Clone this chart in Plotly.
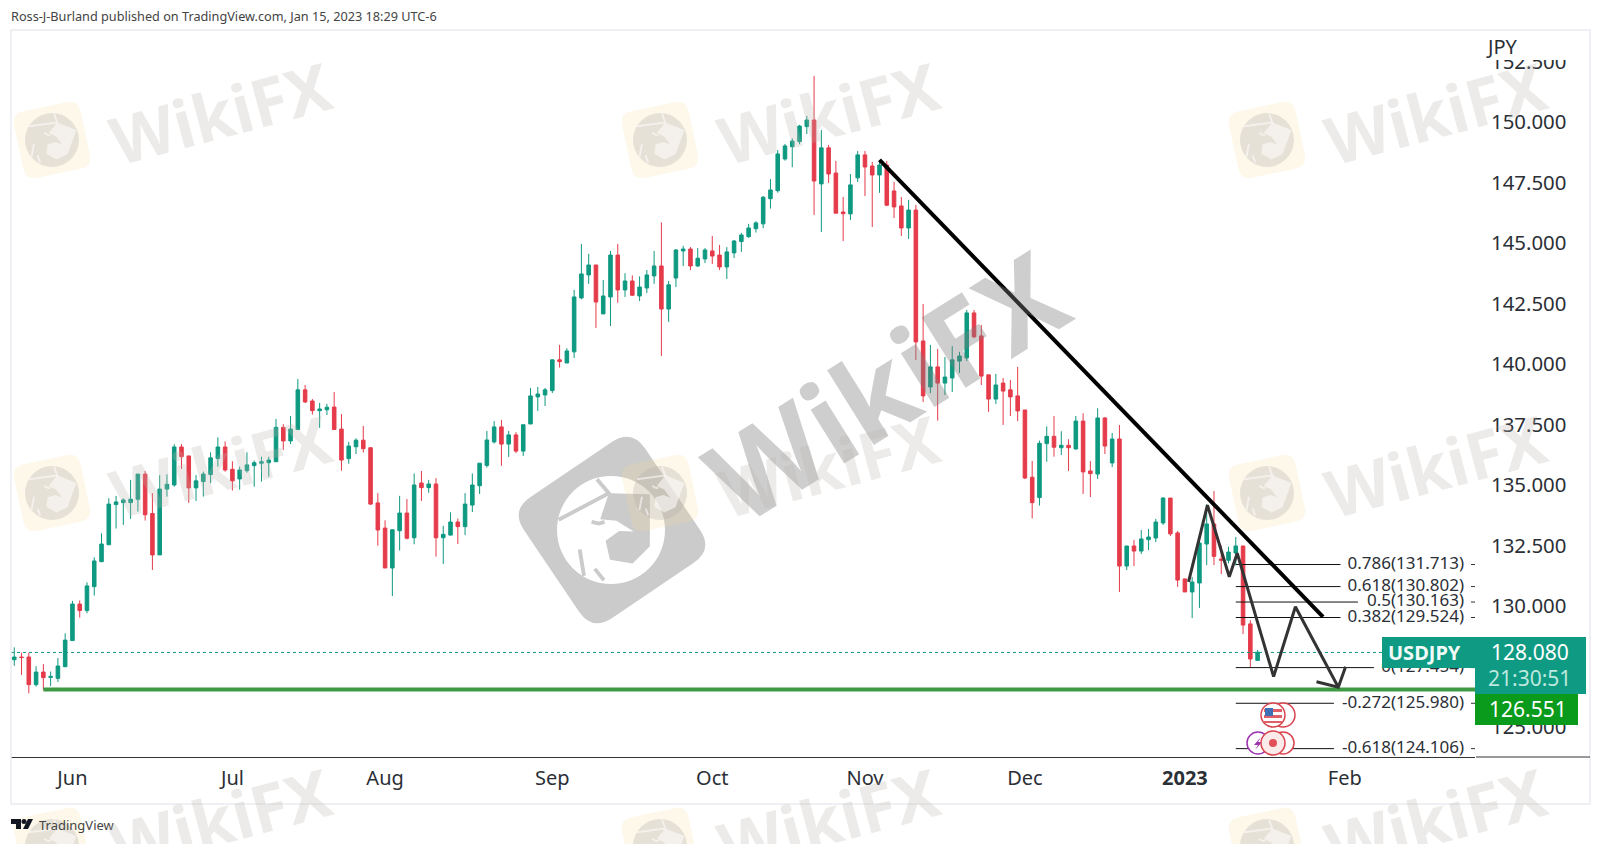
import math                         # for turning the watermark squares
import pandas                       # for the weekday bars
import plotly.graph_objects as go   # plotly

# Daily USDJPY bars
first_bar = "2022-05-20 12:00"
opens = [
    127.78, 127.89, 127.89, 126.75, 127.27, 127.05, 127.01, 127.49, 128.57, 130.08,
    129.81, 130.80, 131.83, 132.53, 134.19, 134.27, 134.27, 134.41, 135.45, 133.82,
    132.11, 134.83, 135.00, 136.57, 136.20, 134.88, 135.14, 135.43, 136.09, 136.57,
    135.65, 135.25, 135.59, 135.80, 135.90, 135.92, 135.96, 137.38, 136.82, 137.29,
    138.93, 138.47, 138.07, 138.11, 138.22, 137.31, 136.09, 136.58, 136.85, 136.54,
    134.26, 133.22, 131.57, 133.11, 133.84, 132.82, 135.08, 134.89, 135.04, 132.82,
    132.93, 133.47, 133.28, 134.17, 134.97, 135.81, 136.78, 137.40, 136.69, 137.07,
    136.40, 137.52, 138.64, 138.72, 138.90, 140.17, 140.04, 140.50, 142.73, 143.68,
    144.09, 142.07, 142.77, 144.50, 143.06, 143.43, 142.81, 143.14, 143.64, 144.05,
    142.27, 143.55, 144.67, 144.75, 144.05, 144.34, 144.67, 144.50, 144.01, 144.59,
    145.06, 145.26, 145.59, 145.79, 146.83, 147.16, 148.47, 148.98, 149.19, 149.81,
    150.08, 147.44, 148.93, 147.89, 146.28, 146.20, 147.69, 148.64, 148.18, 147.81,
    148.22, 147.15, 146.53, 145.62, 146.36, 140.95, 139.05, 139.88, 139.21, 139.42,
    140.12, 140.25, 142.11, 141.16, 139.55, 138.55, 139.21, 138.93, 138.68, 138.10,
    135.32, 134.48, 136.71, 137.01, 136.54, 136.64, 136.49, 137.64, 135.58, 135.45,
    137.77, 135.91, 136.90, 131.65, 132.48, 132.27, 132.74, 132.81, 133.43, 134.46,
    133.02, 131.12, 130.58, 130.95, 132.56, 133.39, 131.94, 131.89, 132.19, 132.48,
    129.26, 127.75,
]
highs = [
    128.29, 128.07, 128.07, 127.51, 127.60, 127.29, 127.85, 128.87, 130.21, 130.23,
    130.98, 132.01, 133.00, 134.45, 134.55, 134.45, 135.21, 135.45, 135.58, 134.66,
    135.41, 135.44, 136.69, 136.69, 136.20, 135.41, 135.55, 136.35, 136.97, 136.80,
    135.98, 135.76, 136.35, 136.01, 136.17, 136.17, 137.73, 137.51, 137.85, 139.38,
    139.13, 138.55, 138.39, 138.35, 138.84, 137.93, 136.78, 136.93, 137.44, 136.54,
    134.66, 133.54, 133.15, 134.55, 134.42, 135.48, 135.58, 135.21, 135.28, 133.31,
    133.87, 133.61, 134.66, 135.48, 135.90, 137.23, 137.64, 137.69, 137.23, 137.18,
    137.49, 139.01, 139.05, 139.01, 140.19, 140.79, 140.65, 143.06, 144.96, 144.55,
    144.09, 143.47, 144.67, 144.96, 143.75, 143.66, 143.62, 143.88, 144.67, 145.85,
    143.43, 144.75, 144.88, 144.83, 144.79, 144.79, 145.29, 144.92, 144.83, 145.12,
    145.41, 145.79, 145.90, 146.94, 147.64, 148.84, 149.09, 149.32, 149.88, 150.25,
    151.90, 149.67, 149.05, 148.39, 146.90, 147.85, 148.80, 148.80, 148.35, 148.43,
    148.39, 147.52, 146.90, 146.78, 146.57, 142.48, 140.79, 140.62, 140.29, 140.74,
    140.50, 142.23, 142.23, 141.61, 139.55, 139.59, 139.42, 139.34, 139.88, 138.10,
    135.99, 136.83, 137.42, 137.85, 137.22, 136.89, 137.85, 137.96, 135.99, 138.17,
    137.81, 137.15, 137.48, 132.48, 132.73, 133.14, 133.18, 133.60, 134.50, 134.46,
    133.10, 131.12, 131.20, 132.73, 134.20, 134.75, 132.50, 132.45, 132.85, 132.48,
    129.41, 128.18,
]
lows = [
    127.53, 127.15, 126.39, 126.67, 126.53, 126.69, 126.86, 127.49, 128.57, 129.52,
    129.70, 130.43, 131.83, 132.53, 133.20, 133.35, 133.60, 133.90, 133.53, 131.49,
    132.11, 134.52, 134.93, 135.66, 134.26, 134.34, 134.52, 135.07, 135.76, 135.55,
    134.77, 134.81, 135.51, 134.93, 135.14, 135.34, 135.96, 136.45, 136.69, 137.29,
    138.39, 137.91, 137.36, 137.89, 137.29, 135.59, 135.88, 136.28, 136.34, 134.17,
    132.49, 131.57, 130.41, 132.29, 132.75, 132.55, 134.34, 134.68, 132.04, 131.74,
    132.91, 132.56, 132.93, 133.88, 134.63, 135.72, 136.71, 135.79, 136.16, 136.32,
    136.20, 137.52, 138.06, 138.26, 138.80, 139.85, 140.04, 140.25, 142.67, 143.31,
    141.49, 142.07, 141.57, 142.53, 142.77, 142.81, 142.60, 142.93, 143.31, 140.33,
    141.74, 143.18, 144.05, 143.88, 144.01, 144.17, 144.13, 143.88, 143.51, 144.38,
    144.63, 145.21, 145.43, 145.61, 146.42, 147.08, 148.40, 148.13, 149.08, 149.50,
    146.16, 145.45, 147.48, 146.23, 145.08, 145.95, 147.52, 146.94, 145.66, 147.07,
    146.53, 146.03, 145.29, 145.17, 140.17, 138.43, 138.80, 137.66, 138.72, 138.84,
    139.63, 140.12, 141.07, 139.13, 138.02, 138.35, 137.48, 137.85, 137.64, 135.24,
    133.62, 134.15, 135.96, 136.17, 136.24, 135.58, 136.45, 134.63, 134.50, 135.25,
    136.28, 135.74, 130.58, 131.49, 131.65, 132.15, 132.31, 132.64, 133.35, 132.89,
    130.79, 130.58, 129.50, 129.92, 131.69, 131.69, 131.32, 131.76, 131.68, 128.84,
    127.48, 127.75,
]
closes = [
    127.89, 127.87, 126.75, 127.27, 127.04, 127.09, 127.52, 128.59, 130.08, 129.81,
    130.83, 131.86, 132.56, 134.21, 134.30, 134.38, 134.41, 135.45, 133.77, 132.11,
    134.83, 135.03, 136.57, 136.17, 134.88, 135.17, 135.45, 136.12, 136.57, 135.62,
    135.17, 135.62, 135.83, 135.92, 135.96, 136.03, 137.38, 136.82, 137.31, 138.93,
    138.43, 138.07, 138.14, 138.21, 137.29, 136.03, 136.61, 136.85, 136.50, 134.21,
    133.14, 131.57, 133.15, 133.84, 132.80, 135.00, 134.89, 135.04, 132.82, 132.96,
    133.47, 133.28, 134.21, 135.00, 135.90, 136.86, 137.40, 136.69, 137.07, 136.40,
    137.49, 138.68, 138.76, 138.93, 140.17, 140.10, 140.54, 142.77, 143.72, 144.09,
    142.56, 142.81, 144.50, 143.06, 143.43, 142.84, 143.18, 143.68, 144.05, 142.27,
    143.27, 144.71, 144.75, 144.05, 144.37, 144.71, 144.46, 144.01, 144.63, 145.08,
    145.33, 145.62, 145.83, 146.89, 147.19, 148.68, 149.01, 149.21, 149.83, 150.08,
    147.56, 148.93, 147.85, 146.23, 146.21, 147.40, 148.64, 148.14, 147.81, 148.22,
    146.56, 146.49, 145.62, 146.36, 140.91, 138.68, 139.88, 139.21, 139.46, 140.17,
    140.33, 142.11, 141.12, 139.50, 138.55, 139.13, 138.88, 138.64, 138.06, 135.29,
    134.27, 136.72, 137.01, 136.56, 136.64, 136.54, 137.64, 135.54, 135.47, 137.77,
    136.61, 136.90, 131.65, 132.48, 132.27, 132.77, 132.85, 133.47, 134.46, 132.98,
    131.07, 130.58, 130.99, 132.60, 133.39, 132.05, 131.89, 132.23, 132.48, 129.21,
    127.81, 128.09,
]

# Axis labels
month_dates = ["2022-06-01 12:00", "2022-07-01 12:00", "2022-08-01 12:00", "2022-09-01 12:00",
               "2022-10-03 12:00", "2022-11-01 12:00", "2022-12-01 12:00", "2023-01-02 12:00",
               "2023-02-01 12:00"]
month_labels = ["Jun", "Jul", "Aug", "Sep", "Oct", "Nov", "Dec", "<b>2023</b>", "Feb"]
price_ticks = [125 + 2.5 * i for i in range(12)]
axis_start = "2022-05-20 01:12"
axis_end = "2023-02-27 09:36"

# Hand drawn lines
trend_dates = ["2022-11-03 12:00", "2023-01-27 12:00"]
trend_prices = [148.43, 129.55]
zigzag_dates = ["2023-01-03 00:00", "2023-01-05 14:24", "2023-01-10 14:24", "2023-01-11 16:48",
                "2023-01-18 16:48", "2023-01-23 16:48", "2023-01-31 14:24"]
zigzag_prices = [131.0, 134.17, 131.21, 132.18, 127.08, 129.97, 126.64]
arrow_dates = ["2023-01-26 14:24", "2023-01-31 14:24", "2023-02-01 14:24"]
arrow_prices = [126.87, 126.64, 127.49]

# Fibonacci levels
fib_labels = ["0.786(131.713)", "0.618(130.802)", "0.5(130.163)", "0.382(129.524)",
              "0(127.454)", "-0.272(125.980)", "-0.618(124.106)"]
fib_prices = [131.713, 130.802, 130.163, 129.524, 127.454, 125.980, 124.106]
fib_ends = ["2023-01-31 21:36", "2023-01-31 21:36", "2023-02-03 07:12", "2023-01-31 21:36",
            "2023-02-07 12:00", "2023-01-31 00:00", "2023-01-31 00:00"]
fib_start = "2023-01-11 12:00"
fib_text_x = "2023-02-23 21:36"
fib_dash_x = "2023-02-24 20:24"

last_price = 128.080
support_price = 126.551
support_start = "2022-05-26 12:00"

TEAL = "#0E9981"
RED = "#E53B4A"
TEXT = "#2B2F36"

# Pixel positions of the plot box inside the page
LEFT, RIGHT, TOP, BOTTOM = 11, 1475, 30, 757


def fx(x):
    return (x - LEFT) / (RIGHT - LEFT)


def fy(y):
    return (BOTTOM - y) / (BOTTOM - TOP)


def rect(x0, y0, x1, y1, fill, line=None, width=0):
    return dict(type="rect", xref="paper", yref="paper", x0=fx(x0), x1=fx(x1), y0=fy(y0), y1=fy(y1),
                fillcolor=fill, line=dict(color=line or fill, width=width))


def disc(cx, cy, r, fill, line=None, width=0):
    return dict(type="circle", xref="paper", yref="paper", x0=fx(cx - r), x1=fx(cx + r), y0=fy(cy - r), y1=fy(cy + r),
                fillcolor=fill, line=dict(color=line or fill, width=width))


def poly(points, fill=None, line=None, width=0, closed=True):
    path = "M" + " L".join(f"{fx(x):.5f},{fy(y):.5f}" for x, y in points) + (" Z" if closed else "")
    return dict(type="path", xref="paper", yref="paper", path=path, fillcolor=fill or "rgba(0,0,0,0)",
                line=dict(color=line or "rgba(0,0,0,0)", width=width))


def rounded_square(cx, cy, side, radius, degrees, fill):
    # rounded square turned around its centre, built from quadratic corners
    a = math.radians(degrees)
    h = side / 2

    def turn(x, y):
        px = cx + x * math.cos(a) - y * math.sin(a)
        py = cy + x * math.sin(a) + y * math.cos(a)
        return f"{fx(px):.5f},{fy(py):.5f}"

    k = h - radius
    path = (f"M{turn(-k, -h)} L{turn(k, -h)} Q{turn(h, -h)} {turn(h, -k)} L{turn(h, k)} Q{turn(h, h)} {turn(k, h)} "
            f"L{turn(-k, h)} Q{turn(-h, h)} {turn(-h, k)} L{turn(-h, -k)} Q{turn(-h, -h)} {turn(-k, -h)} Z")
    return dict(type="path", xref="paper", yref="paper", path=path, fillcolor=fill, line=dict(width=0))


def eagle(cx, cy, r, degrees, face, cut):
    # rough eagle head: a disc with the beak, the slash and the feathers cut out of it
    a = math.radians(degrees)

    def at(u, v):
        return (cx + r * (u * math.cos(a) - v * math.sin(a)), cy + r * (u * math.sin(a) + v * math.cos(a)))

    out = [disc(cx, cy, r, face)]
    thin = max(r / 14, 1)
    out.append(poly([at(-0.97, -0.19), at(-0.04, -0.68), at(-0.26, -0.94)], line=cut, width=thin, closed=False))
    out.append(poly([at(-0.04, -0.68), at(0.72, -0.66), at(0.72, 0.3), at(0.4, 0.62), at(-0.02, 0.55), at(-0.1, 0.2),
                     at(0.15, 0.02), at(0.42, 0.03), at(0.1, -0.17), at(-0.2, -0.2)], fill=cut))
    out.append(poly([at(-0.58, 0.36), at(-0.5, 0.85)], line=cut, width=thin, closed=False))
    out.append(poly([at(-0.3, 0.72), at(-0.13, 0.93)], line=cut, width=thin, closed=False))
    out.append(poly([at(-0.36, -0.15), at(-0.22, -0.12), at(-0.12, -0.15)], line=cut, width=thin, closed=False))
    return out


bar_dates = (pandas.bdate_range(first_bar[:10], periods=len(opens)) + pandas.Timedelta(hours=12)).strftime("%Y-%m-%d %H:%M").tolist()

fig = go.Figure()

# Candles
fig.add_trace(go.Candlestick(
    x=bar_dates, open=opens, high=highs, low=lows, close=closes,
    increasing=dict(line=dict(color=TEAL, width=1), fillcolor=TEAL),
    decreasing=dict(line=dict(color=RED, width=1), fillcolor=RED),
    whiskerwidth=0,
))

# Last price and support levels
fig.add_trace(go.Scatter(x=[axis_start, axis_end], y=[last_price, last_price], mode="lines",
                         line=dict(color=TEAL, width=1, dash="dot")))
fig.add_trace(go.Scatter(x=[support_start, axis_end], y=[support_price, support_price], mode="lines",
                         line=dict(color="#3D9A43", width=4)))

# Fibonacci lines, their labels and the small dashes by the price scale
for label, price, end in zip(fib_labels, fib_prices, fib_ends):
    fig.add_trace(go.Scatter(x=[fib_start, end], y=[price, price], mode="lines", line=dict(color="#111111", width=1)))
    fig.add_trace(go.Scatter(x=[fib_dash_x, axis_end], y=[price, price], mode="lines", line=dict(color="#333333", width=1)))
    fig.add_trace(go.Scatter(x=[fib_text_x], y=[price], mode="text", text=[label], textposition="middle left",
                             textfont=dict(family="Noto Sans", size=17, color=TEXT), cliponaxis=False))

# Trend line and projected path
fig.add_trace(go.Scatter(x=trend_dates, y=trend_prices, mode="lines", line=dict(color="#000000", width=4)))
fig.add_trace(go.Scatter(x=zigzag_dates, y=zigzag_prices, mode="lines", line=dict(color="#333333", width=3)))
fig.add_trace(go.Scatter(x=arrow_dates, y=arrow_prices, mode="lines", line=dict(color="#333333", width=3)))

shapes = []

# Big watermark in the middle
shapes.append(rounded_square(612, 530, 146, 24, -34, "rgba(125,125,125,0.40)"))
shapes.extend(eagle(611, 530, 54, 0, "#ffffff", "#cbcbcb"))

# Small tiled watermarks
for row_y in [140, 493, 846]:
    for col_x in [52, 660, 1267]:
        shapes.append(rounded_square(col_x, row_y, 68, 12, -12, "rgba(250,222,150,0.20)"))
        shapes.extend(eagle(col_x, row_y, 27, 20, "rgba(175,172,168,0.30)", "rgba(255,255,255,0.55)"))

# Price scale labels
shapes.append(rect(1382, 637, 1586, 668, "#0F9B83"))
shapes.append(rect(1475, 668, 1586, 694, "#0F9B83"))
shapes.append(rect(1475, 694, 1578, 725, "#0A9A1C"))
shapes.append(rect(1480, 31, 1589, 60, "#ffffff"))

# Chart frame and the rest of the time axis line
shapes.append(rect(LEFT, TOP, 1590, 804, "rgba(0,0,0,0)", line="#E9ECEF", width=1.5))
shapes.append(poly([(1476, BOTTOM), (1590, BOTTOM)], line="#333333", width=1, closed=False))

# Calendar icons
shapes.append(disc(1283, 715, 12, "#ffffff", line="#D9434E", width=1.5))
shapes.append(disc(1273, 715, 12, "#ffffff", line="#D9434E", width=1.5))
shapes.append(rect(1264, 709, 1282, 712, "#E0606A"))
shapes.append(rect(1264, 715, 1282, 718, "#E0606A"))
shapes.append(rect(1264, 721, 1282, 723, "#E0606A"))
shapes.append(rect(1265, 708, 1273, 716, "#3F6FB5"))
shapes.append(disc(1258, 743, 11, "#ffffff", line="#9C33B0", width=1.5))
shapes.append(poly([(1261, 737), (1254, 745), (1258, 745), (1255, 750), (1262, 742), (1258, 742)], fill="#9C33B0"))
shapes.append(disc(1283, 743, 11, "#ffffff", line="#D9434E", width=1.5))
shapes.append(disc(1273, 743, 12, "#FBEAEA", line="#D9434E", width=1.5))
shapes.append(disc(1273, 743, 4, "#E0505A"))

# TradingView mark
shapes.append(poly([(11, 819), (21, 819), (21, 829), (16, 829), (16, 824), (11, 824)], fill="#131722"))
shapes.append(disc(24, 821.5, 2.5, "#131722"))
shapes.append(poly([(28, 819), (33, 819), (28, 829), (23, 829)], fill="#131722"))


def note(text, x, y, size, color=TEXT, anchor="left", family="Noto Sans", angle=0):
    return dict(text=text, xref="paper", yref="paper", x=fx(x), y=fy(y), xanchor=anchor, yanchor="middle",
                showarrow=False, textangle=angle, font=dict(family=family, size=size, color=color))


annotations = [
    note("Ross-J-Burland published on TradingView.com, Jan 15, 2023 18:29 UTC-6", 9, 16, 12.7, color="#444444"),
    note("TradingView", 37, 825, 13, color="#444444"),
    note("JPY", 1502, 47, 20, anchor="center"),
    note("<b>USDJPY</b>", 1424, 652, 20, color="#F2FBF9", anchor="center"),
    note("128.080", 1530, 652, 21, color="#FFFFFF", anchor="center"),
    note("21:30:51", 1530, 678, 21, color="#BDE8DF", anchor="center"),
    note("126.551", 1528, 709, 21, color="#FFFFFF", anchor="center"),
    note("<b>WikiFX</b>", 885, 385, 116, color="rgba(125,125,125,0.38)", anchor="center", angle=-32),
]
for row_y in [140, 493, 846]:
    for col_x in [52, 660, 1267]:
        annotations.append(note("<b>WikiFX</b>", col_x + 168, row_y - 28, 66, color="rgba(190,180,175,0.27)",
                                anchor="center", angle=-15))

fig.update_xaxes(
    type="date",
    range=[axis_start, axis_end],
    rangebreaks=[dict(bounds=["sat", "mon"])],
    rangeslider_visible=False,
    tickmode="array",
    tickvals=month_dates,
    ticktext=month_labels,
    tickfont=dict(family="Noto Sans", size=20, color=TEXT),
    ticks="",
    ticklabelstandoff=3,
    showgrid=False,
    zeroline=False,
    showline=True,
    linecolor="#333333",
    linewidth=1,
)
fig.update_yaxes(
    side="right",
    range=[123.76, 153.80],
    tickmode="array",
    tickvals=price_ticks,
    ticktext=[f"{p:.3f}" for p in price_ticks],
    tickfont=dict(family="Noto Sans", size=20.4, color=TEXT),
    ticks="",
    ticklabelstandoff=15,
    showgrid=False,
    zeroline=False,
    showline=False,
)
fig.update_layout(
    width=1602,
    height=844,
    margin=dict(l=LEFT, r=1602 - RIGHT, t=TOP, b=844 - BOTTOM),
    paper_bgcolor="#FFFFFF",
    plot_bgcolor="#FFFFFF",
    showlegend=False,
    shapes=shapes,
    annotations=annotations,
)

# Save the file
fig.write_html("out.html", config=dict(displayModeBar=False), post_script="document.body.style.margin='0';")
